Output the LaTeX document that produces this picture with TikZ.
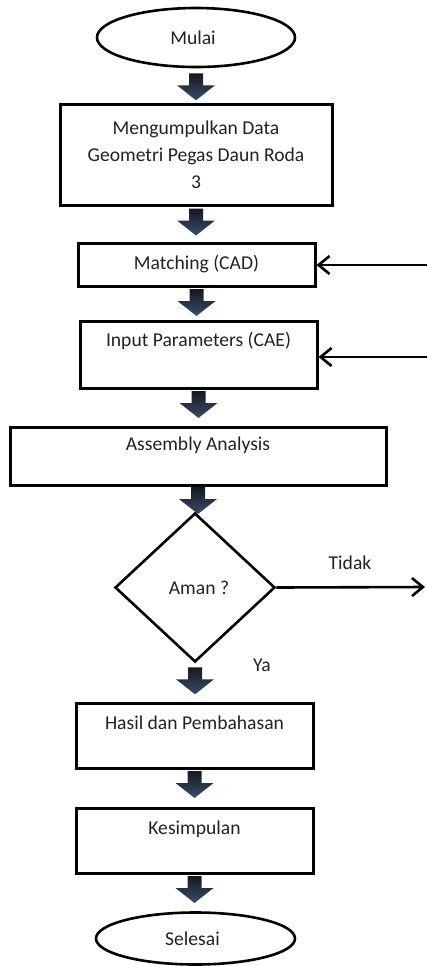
\documentclass[tikz,border=0pt]{standalone}
\usepackage{fontspec}
\setmainfont{Carlito}
\usetikzlibrary{shapes.geometric,arrows.meta,calc}
\definecolor{arrtop}{HTML}{15191F}
\definecolor{arrbot}{HTML}{3A4C6B}
\definecolor{txt}{HTML}{222222}
\begin{document}
\begin{tikzpicture}[x=0.5pt,y=-0.5pt,
  every node/.style={font=\fontsize{9.8}{13.5}\selectfont, text=txt},
  box/.style={draw=black, line width=1.5pt, rectangle, inner sep=0pt},
  term/.style={draw=black, line width=1.3pt, ellipse, inner sep=0pt},
  dec/.style={draw=black, line width=1.3pt, diamond, inner sep=0pt},
  fb/.style={draw=black, line width=1.3pt, -{Straight Barb[length=5.5pt,width=9pt]}},
  blockarr/.pic={\shade[top color=arrtop,bottom color=arrbot]
     (-7,0) -- (7,0) -- (7,12) -- (19,12) -- (0,27) -- (-19,12) -- (-7,12) -- cycle;}]
\useasboundingbox (0,0) rectangle (427,966);

\node[term, minimum width=99pt, minimum height=29.5pt] (mulai) at (196,37.5) {\hspace*{-3pt}Mulai};
\node[box, minimum width=136pt, minimum height=50.5pt, align=center] (data) at (196,154.5)
  {Mengumpulkan Data\\Geometri Pegas Daun Roda\\3};
\node[box, minimum width=118.5pt, minimum height=21.5pt] (match) at (196.5,264.5) {Matching (CAD)};
\node[box, minimum width=118.5pt, minimum height=33.5pt,
  label={[anchor=center,yshift=-10.5pt]north:Input Parameters (CAE)}] (input) at (198.5,354.5) {};
\node[box, minimum width=188pt, minimum height=29pt,
  label={[anchor=center,yshift=-10pt]north:Assembly Analysis}] (assembly) at (198,456) {};
\node[dec, minimum width=80pt, minimum height=74.5pt] (aman) at (195,587.5) {\hspace*{4pt}Aman ?};
\node[box, minimum width=118.5pt, minimum height=32.5pt,
  label={[anchor=center,yshift=-10.5pt]north:Hasil dan Pembahasan}] (hasil) at (194.5,735.5) {};
\node[box, minimum width=118.5pt, minimum height=32.5pt,
  label={[anchor=center,yshift=-11.5pt]north:Kesimpulan}] (kesimpulan) at (194.5,840.5) {};
\node[term, minimum width=99.5pt, minimum height=26pt] (selesai) at (195.5,938.5) {\hspace*{-3pt}Selesai};

\node (tidak) at (350,563) {Tidak};
\node (ya) at (262,665) {Ya};

\pic at ($(mulai.south)+(0,5)$) {blockarr};
\pic at ($(data.south)+(0,2)$) {blockarr};
\pic at ($(match.south)+(0,1.5)$) {blockarr};
\pic at ($(input.south)+(0,1.5)$) {blockarr};
\pic at ($(assembly.south)+(0,0.5)$) {blockarr};
\pic at ($(aman.south)+(0,4)$) {blockarr};
\pic at ($(hasil.south)+(0,1.5)$) {blockarr};
\pic at ($(kesimpulan.south)+(0,1.5)$) {blockarr};

\coordinate (r1) at (427,265);
\coordinate (r2) at (427,357);
\coordinate (r3) at (425,587);
\draw[fb] (r1) -- (match.east |- r1);
\draw[fb] (r2) -- (input.east |- r2);
\draw[fb] (aman.east) -- (r3);
\end{tikzpicture}
\end{document}
